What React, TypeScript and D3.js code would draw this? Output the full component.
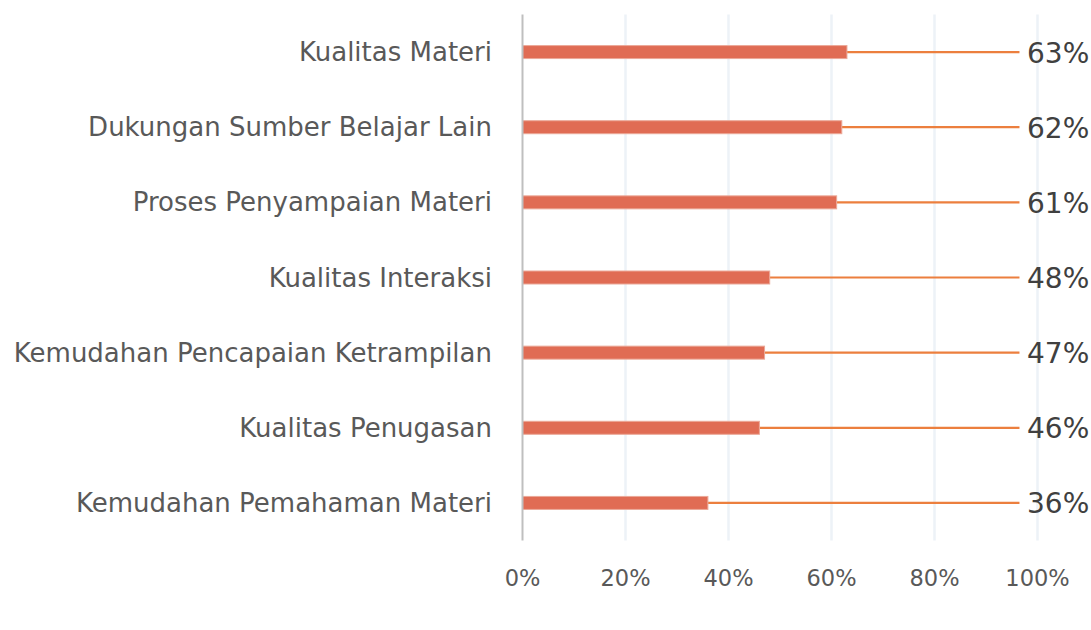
import React from "react";
import * as d3 from "d3";

const categories = [
  "Kualitas Materi",
  "Dukungan Sumber Belajar Lain",
  "Proses Penyampaian Materi",
  "Kualitas Interaksi",
  "Kemudahan Pencapaian Ketrampilan",
  "Kualitas Penugasan",
  "Kemudahan Pemahaman Materi",
];
const values = [63, 62, 61, 48, 47, 46, 36];
const ticks = [0, 20, 40, 60, 80, 100];

const W = 1091;
const H = 630;

export default function App() {
  const x = d3.scaleLinear().domain([0, 100]).range([522.5, 1037.5]);
  const y = d3.scaleBand().domain(categories).range([14.5, 540.5]);
  const font = "'DejaVu Sans', sans-serif";
  return (
    <svg width={W} height={H} style={{ position: "absolute", left: 0, top: 0, background: "#fff" }}>
      {ticks.slice(1).map((t) => (
        <line key={t} x1={x(t)} x2={x(t)} y1={14.5} y2={540.5} stroke="#EDF2F7" strokeWidth={2.5} />
      ))}
      {categories.map((c, i) => {
        const cy = y(c)! + y.bandwidth() / 2;
        return (
          <g key={c}>
            <line x1={x(values[i])} x2={x(96.5)} y1={cy} y2={cy} stroke="#EC7F3E" strokeWidth={2.2} />
            <rect x={x(0)} y={cy - 6.5} width={x(values[i]) - x(0)} height={13} fill="#E06C54" stroke="#EBA898" strokeWidth={1} />
            <text x={492} y={cy} textAnchor="end" dominantBaseline="central" fontFamily={font} fontSize={26} fill="#595959">{c}</text>
            <text x={1027} y={cy + 1} dominantBaseline="central" fontFamily={font} fontSize={28} fill="#404040">{values[i]}%</text>
          </g>
        );
      })}
      <line x1={x(0)} x2={x(0)} y1={14.5} y2={540.5} stroke="#BFBFBF" strokeWidth={2} />
      {ticks.map((t) => (
        <text key={t} x={x(t)} y={578} textAnchor="middle" dominantBaseline="central" fontFamily={font} fontSize={22.5} fill="#595959">{t}%</text>
      ))}
    </svg>
  );
}
